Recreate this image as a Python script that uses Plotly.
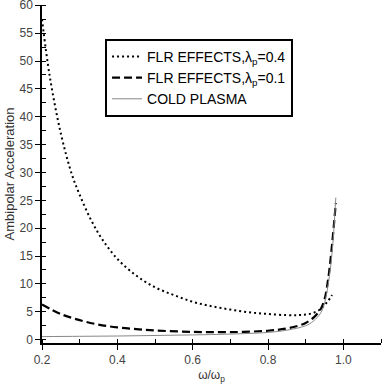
import plotly.graph_objects as go

x_flr04 = [0.2, 0.22, 0.25, 0.28, 0.3, 0.33, 0.36, 0.4, 0.45, 0.5, 0.55, 0.6, 0.65, 0.7,
           0.75, 0.8, 0.85, 0.88, 0.9, 0.92, 0.94, 0.95, 0.96, 0.97]
y_flr04 = [57.5, 47.5, 37, 29.5, 26, 21.5, 18, 14.5, 11.5, 9.4, 8.0, 6.8, 6.0, 5.4,
           4.9, 4.6, 4.4, 4.4, 4.5, 4.8, 5.5, 6.2, 7.0, 8.0]

x_flr01 = [0.2, 0.25, 0.3, 0.35, 0.4, 0.45, 0.5, 0.6, 0.7, 0.8, 0.85, 0.88, 0.9, 0.92,
           0.94, 0.95, 0.96, 0.97, 0.98]
y_flr01 = [6.3, 4.6, 3.5, 2.7, 2.2, 1.9, 1.65, 1.4, 1.35, 1.6, 2.0, 2.5, 3.0, 3.9,
           5.5, 7.2, 11, 17, 24.5]

x_cold = [0.2, 0.3, 0.4, 0.5, 0.6, 0.7, 0.8, 0.85, 0.9, 0.92, 0.94, 0.95, 0.96, 0.97, 0.98]
y_cold = [0.55, 0.6, 0.65, 0.75, 0.85, 1.0, 1.3, 1.7, 2.5, 3.3, 4.8, 6.5, 10, 15.5, 25.5]

FONT = "Liberation Sans, Arial, sans-serif"

fig = go.Figure()
fig.add_trace(go.Scatter(x=x_flr04, y=y_flr04, mode="lines", name="FLR EFFECTS,λ<sub>p</sub>=0.4",
                         line=dict(color="black", width=2, dash="2px,3px", shape="spline")))
fig.add_trace(go.Scatter(x=x_flr01, y=y_flr01, mode="lines", name="FLR EFFECTS,λ<sub>p</sub>=0.1",
                         line=dict(color="black", width=2.2, dash="8px,4px", shape="spline")))
fig.add_trace(go.Scatter(x=x_cold, y=y_cold, mode="lines", name="COLD PLASMA",
                         line=dict(color="#888888", width=1, shape="spline")))

fig.update_layout(
    width=384, height=384,
    margin=dict(l=42, r=3, t=5, b=41),
    paper_bgcolor="white", plot_bgcolor="white",
    font=dict(family=FONT, size=12, color="#444444"),
    showlegend=True,
    legend=dict(x=0.186, y=0.9, xanchor="left", yanchor="top",
                bordercolor="black", borderwidth=2, bgcolor="white",
                font=dict(family=FONT, size=14, color="black"),
                tracegroupgap=0, itemwidth=30),
    xaxis=dict(range=[0.2, 1.1], showgrid=False, zeroline=False, automargin=False,
               showline=True, linecolor="black", linewidth=1.5,
               ticks="outside", ticklen=5, tickcolor="black",
               tickvals=[0.2, 0.4, 0.6, 0.8, 1.0], ticktext=["0.2", "0.4", "0.6", "0.8", "1.0"],
               minor=dict(ticks="inside", ticklen=4, tickcolor="black", dtick=0.1, tick0=0.1),
               title=dict(text="ω/ω<sub>p</sub>", font=dict(family=FONT, size=12, color="#333333"), standoff=9)),
    yaxis=dict(range=[-0.6, 60.05], showgrid=False, zeroline=False, automargin=False,
               showline=True, linecolor="black", linewidth=1.5,
               ticks="outside", ticklen=5, tickcolor="black", ticklabeloverflow="allow",
               tickvals=list(range(0, 61, 5)),
               minor=dict(ticks="inside", ticklen=4, tickcolor="black", dtick=2.5, tick0=0),
               title=dict(text="Ambipolar Acceleration", font=dict(family=FONT, size=13, color="#333333"), standoff=2)),
)

fig.write_html("out.html", config={"displayModeBar": False},
               post_script="document.body.style.margin='0';document.body.style.overflow='hidden';")
